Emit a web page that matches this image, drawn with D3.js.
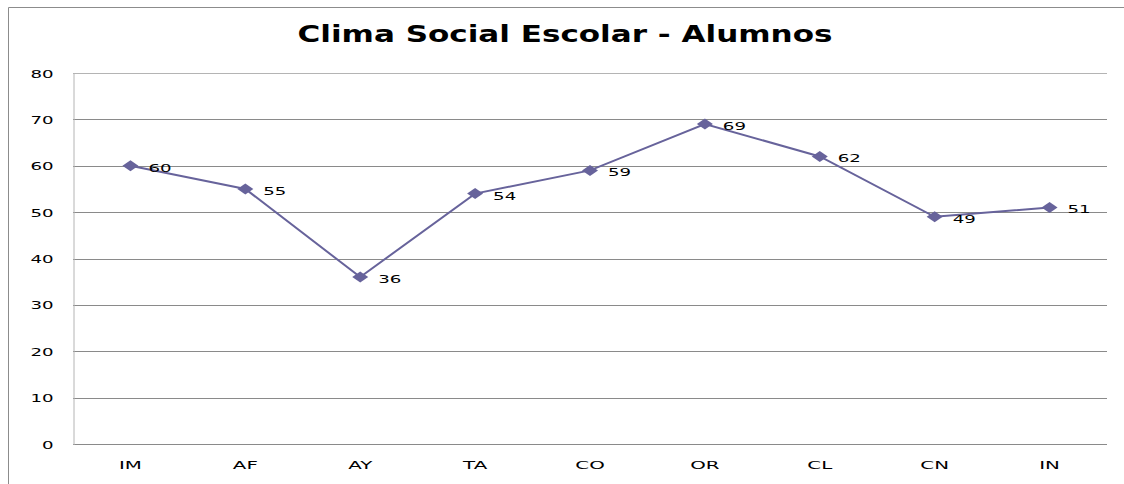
<!DOCTYPE html>
<html>
<head>
<meta charset="utf-8">
<script src="https://cdn.jsdelivr.net/npm/d3@7"></script>
<style>
  body { margin: 0; background: #fff; }
  text { font-family: "DejaVu Sans", Verdana, sans-serif; }
</style>
</head>
<body>
<div id="chart"></div>
<script>
// data
var categories = ["IM", "AF", "AY", "TA", "CO", "OR", "CL", "CN", "IN"];
var values = [60, 55, 36, 54, 59, 69, 62, 49, 51];
var yTicks = [0, 10, 20, 30, 40, 50, 60, 70, 80];

var width = 1124;
var height = 484;
var plot = {left: 73, top: 73, right: 1107, bottom: 444};
var lineColor = "#67639b";

//the picture's text is stretched sideways, so widen each label
var stretch = function(sel, k) {
    sel.each(function() {
        var w = this.getComputedTextLength();
        d3.select(this)
            .attr("textLength", w * k)
            .attr("lengthAdjust", "spacingAndGlyphs");
    });
};

var svg = d3.select("#chart")
    .append("svg")
    .attr("width", width)
    .attr("height", height);

//outer frame, cut off at right and bottom like the picture
svg.append("path")
    .attr("d", "M8.5," + height + " V7.5 H" + width)
    .attr("fill", "none")
    .attr("stroke", "#8c8c8c")
    .attr("stroke-width", 1);

svg.append("text")
    .attr("x", 565)
    .attr("y", 42)
    .attr("text-anchor", "middle")
    .attr("textLength", 535)
    .attr("lengthAdjust", "spacingAndGlyphs")
    .style("font-size", "23px")
    .style("font-weight", "bold")
    .text("Clima Social Escolar - Alumnos");

var x = d3.scaleBand()
    .domain(categories)
    .range([plot.left, plot.right]);

var y = d3.scaleLinear()
    .domain([0, 80])
    .range([plot.bottom, plot.top]);

//gridlines
svg.append("g")
    .selectAll("line")
    .data(yTicks)
    .enter().append("line")
    .attr("x1", plot.left)
    .attr("x2", plot.right)
    .attr("y1", d => Math.round(y(d)) + 0.5)
    .attr("y2", d => Math.round(y(d)) + 0.5)
    .attr("stroke", d => d == 80 ? "#b4b4b4" : "#8a8a8a");

//y axis
var yAxis = svg.append("g")
    .attr("transform", "translate(" + (plot.left + 0.5) + ",0.5)")
    .call(d3.axisLeft(y).tickValues(yTicks).tickSize(0).tickPadding(20));
yAxis.select(".domain").attr("stroke", "#b4b4b4");
yAxis.selectAll("text")
    .style("font-size", "11px")
    .style("font-family", "\"DejaVu Sans\", Verdana, sans-serif")
    .attr("fill", "#000")
    .call(stretch, 1.65);

//x axis
var xAxis = svg.append("g")
    .attr("transform", "translate(0," + (plot.bottom + 0.5) + ")")
    .call(d3.axisBottom(x).tickSize(0).tickPadding(17));
xAxis.select(".domain").remove();
xAxis.selectAll("text")
    .style("font-size", "11px")
    .style("font-family", "\"DejaVu Sans\", Verdana, sans-serif")
    .attr("fill", "#000")
    .call(stretch, 1.8);

var points = categories.map((c, i) => ({cat: c, val: values[i]}));

var line = d3.line()
    .x(d => x(d.cat) + x.bandwidth() / 2)
    .y(d => y(d.val));

svg.append("path")
    .datum(points)
    .attr("d", line)
    .attr("fill", "none")
    .attr("stroke", lineColor)
    .attr("stroke-width", 2);

//diamond markers
svg.append("g")
    .selectAll("path")
    .data(points)
    .enter().append("path")
    .attr("transform", d => "translate(" + (x(d.cat) + x.bandwidth() / 2) + "," + y(d.val) + ")")
    .attr("d", "M0,-5.5 L8,0 L0,5.5 L-8,0 Z")
    .attr("fill", lineColor);

//value labels
svg.append("g")
    .selectAll("text")
    .data(points)
    .enter().append("text")
    .attr("x", d => x(d.cat) + x.bandwidth() / 2 + 18)
    .attr("y", d => y(d.val) + 6)
    .style("font-size", "11px")
    .attr("fill", "#000")
    .text(d => d.val)
    .call(stretch, 1.65);
</script>
</body>
</html>
